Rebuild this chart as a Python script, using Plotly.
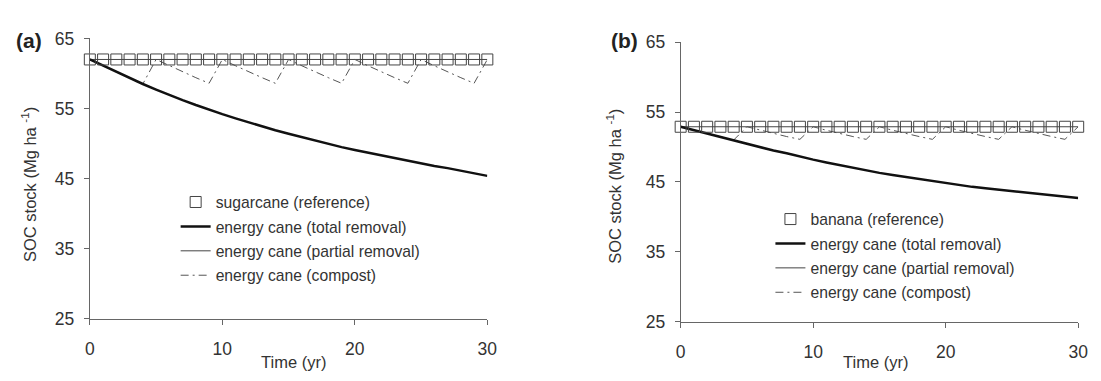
import plotly.graph_objects as go

years = list(range(0, 31))

# Panel (a): sugarcane
a_reference = [62.0] * 31
a_total = [62.0, 61.1, 60.2, 59.3, 58.5, 57.7, 56.9, 56.2, 55.5, 54.8,
           54.2, 53.6, 53.0, 52.4, 51.9, 51.4, 50.9, 50.4, 49.9, 49.5,
           49.1, 48.7, 48.3, 47.9, 47.5, 47.1, 46.8, 46.5, 46.1, 45.8, 45.4]
a_partial = [62.0] * 31
a_compost = [62.0, 61.1, 60.2, 59.3, 58.5,
             62.0, 61.1, 60.2, 59.4, 58.6,
             62.0, 61.1, 60.2, 59.4, 58.6,
             62.0, 61.1, 60.2, 59.4, 58.6,
             62.0, 61.1, 60.2, 59.4, 58.6,
             62.0, 61.1, 60.2, 59.4, 58.6, 62.0]

# Panel (b): banana
b_reference = [52.9] * 31
b_total = [52.9, 52.4, 51.9, 51.4, 51.0, 50.5, 50.0, 49.5, 49.1, 48.6,
           48.2, 47.8, 47.4, 47.0, 46.6, 46.3, 46.0, 45.7, 45.4, 45.1,
           44.8, 44.6, 44.3, 44.1, 43.9, 43.7, 43.5, 43.3, 43.1, 42.9, 42.7]
b_partial = [52.9] * 31
b_compost = [52.9, 52.4, 51.9, 51.4, 51.0,
             52.9, 52.4, 51.9, 51.5, 51.1,
             52.9, 52.4, 51.9, 51.5, 51.1,
             52.9, 52.4, 51.9, 51.5, 51.1,
             52.9, 52.4, 51.9, 51.5, 51.1,
             52.9, 52.4, 51.9, 51.5, 51.1, 52.9]

x_ticks = [0, 10, 20, 30]
y_ticks = [25, 35, 45, 55, 65]

W, H = 1101, 381
FONT = "Liberation Sans, Arial, sans-serif"
TXT = "#333333"
AX = "#666666"

fig = go.Figure()

def add_panel(xa, ya, leg, ref, ref_name, total, partial, compost):
    fig.add_trace(go.Scatter(x=years, y=partial, mode="lines", name="energy cane (partial removal)",
                             line=dict(color="#444444", width=1), xaxis=xa, yaxis=ya,
                             legend=leg, legendrank=3, legendgroup=leg + "p"))
    fig.add_trace(go.Scatter(x=years, y=compost, mode="lines", name="energy cane (compost)",
                             line=dict(color="#555555", width=1, dash="8px,4px,2px,4px"),
                             xaxis=xa, yaxis=ya, legend=leg, legendrank=4, legendgroup=leg + "c"))
    fig.add_trace(go.Scatter(x=years, y=total, mode="lines", name="energy cane (total removal)",
                             line=dict(color="#111111", width=2.5), xaxis=xa, yaxis=ya,
                             legend=leg, legendrank=2, legendgroup=leg + "t"))
    fig.add_trace(go.Scatter(x=years, y=ref, mode="markers", name=ref_name,
                             marker=dict(symbol="square-open", size=11, color="#444444",
                                         line=dict(width=1, color="#444444")),
                             cliponaxis=False, xaxis=xa, yaxis=ya,
                             legend=leg, legendrank=1, legendgroup=leg + "r"))

add_panel("x", "y", "legend", a_reference, "sugarcane (reference)", a_total, a_partial, a_compost)
add_panel("x2", "y2", "legend2", b_reference, "banana (reference)", b_total, b_partial, b_compost)

def xax(dom, anchor):
    return dict(domain=dom, anchor=anchor, range=[0, 30], tickvals=x_ticks,
                showline=True, linecolor=AX, linewidth=1, ticks="outside", ticklen=5,
                tickcolor=AX, showgrid=False, zeroline=False,
                tickfont=dict(size=17.5, color=TXT, family=FONT), ticklabelstandoff=9)

def yax(dom, anchor):
    return dict(domain=dom, anchor=anchor, range=[25, 65], tickvals=y_ticks,
                showline=True, linecolor=AX, linewidth=1, ticks="outside", ticklen=5,
                tickcolor=AX, showgrid=False, zeroline=False,
                tickfont=dict(size=17.5, color=TXT, family=FONT), ticklabelstandoff=6)

legend_common = dict(font=dict(size=15.7, color=TXT, family=FONT), bgcolor="rgba(0,0,0,0)",
                     traceorder="grouped", tracegroupgap=1, xanchor="left", yanchor="top",
                     orientation="v")

def ann(text, x, y, size, angle=0, xanchor="center", yanchor="middle", color=TXT):
    return dict(text=text, x=x / W, y=1 - y / H, xref="paper", yref="paper",
                xanchor=xanchor, yanchor=yanchor, textangle=angle, showarrow=False,
                font=dict(size=size, color=color, family=FONT))

fig.update_layout(
    width=W, height=H,
    margin=dict(l=0, r=0, t=0, b=0),
    paper_bgcolor="white", plot_bgcolor="white",
    font=dict(family=FONT, color=TXT),
    xaxis=xax([86 / W, 489 / W], "y"),
    yaxis=yax([1 - 326 / H, 1 - 30 / H], "x"),
    xaxis2=xax([685 / W, 1088 / W], "y2"),
    yaxis2=yax([1 - 329 / H, 1 - 34 / H], "x2"),
    legend=dict(x=173 / W, y=1 - 185 / H, **legend_common),
    legend2=dict(x=776 / W, y=1 - 203 / H, **legend_common),
    annotations=[
        ann("<b>(a)</b>", 9, 32.5, 21, xanchor="left", color="#222222"),
        ann("<b>(b)</b>", 612, 32, 21, xanchor="left", color="#222222"),
        ann("SOC stock (Mg ha <sup>-1</sup>)", 25, 184, 16.5, angle=-90),
        ann("SOC stock (Mg ha <sup>-1</sup>)", 618, 186, 16.5, angle=-90),
        ann("Time (yr)", 292, 371, 16.5),
        ann("Time (yr)", 883, 372, 16.5),
    ],
)

fig.write_html("out.html", config={"displayModeBar": False},
               post_script="document.body.style.margin='0';document.body.style.overflow='hidden';")
